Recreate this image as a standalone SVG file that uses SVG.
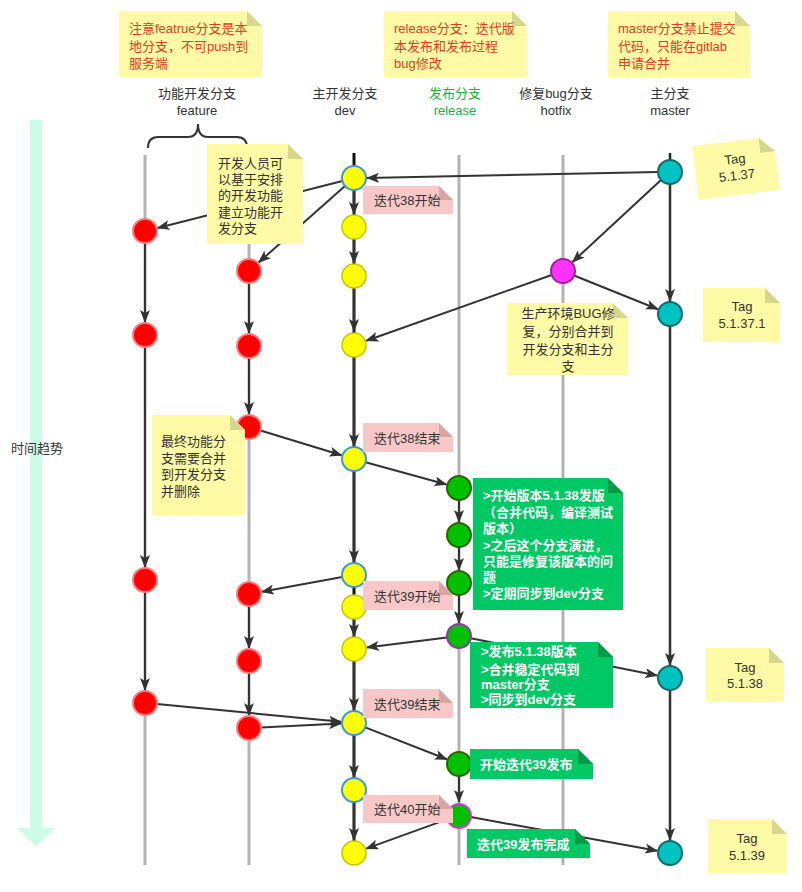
<svg xmlns="http://www.w3.org/2000/svg" width="802" height="892" viewBox="0 0 802 892">
<style>
text{font-family:"Liberation Sans","Noto Sans CJK SC",sans-serif;font-size:13px;fill:#333;dominant-baseline:central}
tspan{dominant-baseline:central}
.red{fill:#e03c1e}
.wt{fill:#fff;font-weight:bold}
.mid{text-anchor:middle}
.lane{stroke:#b3b3b3;stroke-width:3}
.e{stroke:#333;stroke-width:2;fill:none;marker-end:url(#arr)}
.nr{fill:#ff0000;stroke:#ff7a7a;stroke-width:2}
.ny{fill:#ffff00;stroke:#c4c400;stroke-width:1.5}
.nb{fill:#ffff00;stroke:#3a96e6;stroke-width:2}
.ng{fill:#00c000;stroke:#2a6600;stroke-width:2}
.nm{fill:#00c2c2;stroke:#0f6a6a;stroke-width:2}
.yel{fill:#fffaa5}
.yf{fill:#d6d68c}
.pk{fill:#f8c8c8}
.pf{fill:#d9a4a4}
.gn{fill:#00c864}
.gf{fill:#009a48}
</style>
<defs>
<marker id="arr" markerUnits="userSpaceOnUse" markerWidth="13" markerHeight="10" refX="12" refY="5" orient="auto">
<path d="M0,0 L13,5 L0,10 L3,5 Z" fill="#333"/>
</marker>
</defs>
<rect width="802" height="892" fill="#fff"/>

<g id="time-axis">
<rect x="30" y="120" width="12" height="708" fill="#ccfbe6"/>
<path d="M17,828 L55,828 L36,846 Z" fill="#ccfbe6"/>
<text x="11" y="448">时间趋势</text>
</g>

<g id="headers">
<text class="mid" x="197" y="93.5">功能开发分支<tspan x="197" dy="16">feature</tspan></text>
<text class="mid" x="345" y="93.5">主开发分支<tspan x="345" dy="16">dev</tspan></text>
<text class="mid" x="455" y="93.5" style="fill:#22b33a">发布分支<tspan x="455" dy="16">release</tspan></text>
<text class="mid" x="556" y="93.5">修复bug分支<tspan x="556" dy="16">hotfix</tspan></text>
<text class="mid" x="670" y="93.5">主分支<tspan x="670" dy="16">master</tspan></text>
<path d="M148,148 Q148,137 158,137 L188,137 Q198,137 198,124 Q198,137 208,137 L237,137 Q247,137 247,148" stroke="#333" stroke-width="2" fill="none"/>
</g>

<g id="lanes">
<line class="lane" x1="145" y1="155" x2="145" y2="865"/>
<line class="lane" x1="249" y1="155" x2="249" y2="865"/>
<line class="lane" x1="459" y1="155" x2="459" y2="865"/>
<line class="lane" x1="563" y1="155" x2="563" y2="865"/>
<line x1="354" y1="153" x2="354" y2="865" stroke="#111" stroke-width="3"/>
<line x1="670" y1="153" x2="670" y2="850" stroke="#222" stroke-width="2.5"/>
</g>

<g id="connectors">
<line class="e" x1="658" y1="172" x2="367" y2="178"/>
<line class="e" x1="661" y1="180" x2="572.5" y2="262"/>
<line class="e" x1="342.4" y1="181" x2="157.6" y2="228"/>
<line class="e" x1="345" y1="186" x2="258.7" y2="262.4"/>
<line class="e" x1="354" y1="190" x2="354" y2="214"/>
<line class="e" x1="354" y1="239" x2="354" y2="263"/>
<line class="e" x1="354" y1="288" x2="354" y2="331"/>
<line class="e" x1="574" y1="275.5" x2="657.9" y2="309.2"/>
<line class="e" x1="551.7" y1="275" x2="366.3" y2="340.7"/>
<line class="e" x1="670" y1="184" x2="670" y2="301"/>
<line class="e" x1="145" y1="243" x2="145" y2="322"/>
<line class="e" x1="145" y1="347" x2="145" y2="567"/>
<line class="e" x1="145" y1="592" x2="145" y2="690"/>
<line class="e" x1="249" y1="283" x2="249" y2="333"/>
<line class="e" x1="249" y1="358" x2="249" y2="414"/>
<line class="e" x1="260.5" y1="430.5" x2="341.6" y2="455.2"/>
<line class="e" x1="354" y1="357" x2="354" y2="446"/>
<line class="e" x1="365.6" y1="462.2" x2="446.5" y2="484.5"/>
<line class="e" x1="459" y1="500" x2="459" y2="522"/>
<line class="e" x1="459" y1="547" x2="459" y2="570"/>
<line class="e" x1="459" y1="595" x2="459" y2="623"/>
<line class="e" x1="354" y1="471" x2="354" y2="562"/>
<line class="e" x1="342.2" y1="577.1" x2="261.8" y2="591.7"/>
<line class="e" x1="354" y1="620" x2="354" y2="636"/>
<line class="e" x1="447.1" y1="637.5" x2="366.9" y2="647.4"/>
<line class="e" x1="470.8" y1="638.3" x2="657.2" y2="675.5"/>
<line class="e" x1="670" y1="326" x2="670" y2="665"/>
<line class="e" x1="249" y1="606" x2="249" y2="648"/>
<line class="e" x1="249" y1="673" x2="249" y2="715"/>
<line class="e" x1="157" y1="704" x2="341" y2="721.8"/>
<line class="e" x1="261" y1="727.4" x2="341" y2="723.6"/>
<line class="e" x1="354" y1="661" x2="354" y2="710"/>
<line class="e" x1="365.2" y1="727.4" x2="446.9" y2="759.3"/>
<line class="e" x1="354" y1="735" x2="354" y2="777"/>
<line class="e" x1="354" y1="802" x2="354" y2="840"/>
<line class="e" x1="459" y1="776" x2="459" y2="802"/>
<line class="e" x1="447.7" y1="819.1" x2="366.2" y2="848.6"/>
<line class="e" x1="470.8" y1="817.1" x2="657.2" y2="850.7"/>
<line class="e" x1="670" y1="690" x2="670" y2="840"/>
</g>

<g id="node-f1a"><circle class="nr" cx="145" cy="231" r="12"/></g>
<g id="node-f1b"><circle class="nr" cx="145" cy="335" r="12"/></g>
<g id="node-f1c"><circle class="nr" cx="145" cy="580" r="12"/></g>
<g id="node-f1d"><circle class="nr" cx="145" cy="703" r="12"/></g>
<g id="node-f2a"><circle class="nr" cx="249" cy="271" r="12"/></g>
<g id="node-f2b"><circle class="nr" cx="249" cy="346" r="12"/></g>
<g id="node-f2c"><circle class="nr" cx="249" cy="427" r="12"/></g>
<g id="node-f2d"><circle class="nr" cx="249" cy="594" r="12"/></g>
<g id="node-f2e"><circle class="nr" cx="249" cy="661" r="12"/></g>
<g id="node-f2f"><circle class="nr" cx="249" cy="728" r="12"/></g>

<g id="node-d1"><circle class="nb" cx="354" cy="178" r="12"/></g>
<g id="node-d2"><circle class="ny" cx="354" cy="227" r="12"/></g>
<g id="node-d3"><circle class="ny" cx="354" cy="276" r="12"/></g>
<g id="node-d4"><circle class="ny" cx="354" cy="345" r="12"/></g>
<g id="node-d5"><circle class="nb" cx="354" cy="459" r="12"/></g>
<g id="node-d6"><circle class="nb" cx="354" cy="575" r="12"/></g>
<g id="node-d7"><circle class="ny" cx="354" cy="607" r="12"/></g>
<g id="node-d8"><circle class="ny" cx="354" cy="649" r="12"/></g>
<g id="node-d9"><circle class="nb" cx="354" cy="723" r="12"/></g>
<g id="node-d10"><circle class="nb" cx="354" cy="790" r="12"/></g>
<g id="node-d11"><circle class="ny" cx="354" cy="853" r="12"/></g>

<g id="node-r1"><circle class="ng" cx="459" cy="488" r="12"/></g>
<g id="node-r2"><circle class="ng" cx="459" cy="535" r="12"/></g>
<g id="node-r3"><circle class="ng" cx="459" cy="583" r="12"/></g>
<g id="node-r4"><circle class="ng" cx="459" cy="636" r="12" style="stroke:#9933aa"/></g>
<g id="node-r5"><circle class="ng" cx="459" cy="764" r="12"/></g>
<g id="node-r6"><circle class="ng" cx="459" cy="816" r="12" style="stroke:#dd33dd"/></g>

<g id="node-h1"><circle cx="563" cy="271" r="12" fill="#ff33ff" stroke="#a020a0" stroke-width="2"/></g>

<g id="node-m1"><circle class="nm" cx="670" cy="172" r="12"/></g>
<g id="node-m2"><circle class="nm" cx="670" cy="314" r="12"/></g>
<g id="node-m3"><circle class="nm" cx="670" cy="678" r="12"/></g>
<g id="node-m4"><circle class="nm" cx="670" cy="853" r="12"/></g>

<g id="note-feature">
<path class="yel" d="M119,11 H247 L262,26 V77 H119 Z"/>
<path class="yf" d="M247,11 V26 H262 Z"/>
<text class="red" x="129" y="28.5">注意featrue分支是本<tspan x="129" dy="17">地分支，不可push到</tspan><tspan x="129" dy="17">服务端</tspan></text>
</g>
<g id="note-release">
<path class="yel" d="M384,11 H512 L527,26 V77 H384 Z"/>
<path class="yf" d="M512,11 V26 H527 Z"/>
<text class="red" x="394" y="28.5">release分支：迭代版<tspan x="394" dy="17">本发布和发布过程</tspan><tspan x="394" dy="17">bug修改</tspan></text>
</g>
<g id="note-master">
<path class="yel" d="M608,11 H735 L750,26 V77 H608 Z"/>
<path class="yf" d="M735,11 V26 H750 Z"/>
<text class="red" x="618" y="28.5">master分支禁止提交<tspan x="618" dy="17">代码，只能在gitlab</tspan><tspan x="618" dy="17">申请合并</tspan></text>
</g>

<g id="note-dev-create">
<path class="yel" d="M207,144 H288 L303,159 V244 H207 Z"/>
<path class="yf" d="M288,144 V159 H303 Z"/>
<text x="218" y="163">开发人员可<tspan x="218" dy="16">以基于安排</tspan><tspan x="218" dy="16">的开发功能</tspan><tspan x="218" dy="16.5">建立功能开</tspan><tspan x="218" dy="16.5">发分支</tspan></text>
</g>

<g id="note-hotfix">
<path class="yel" d="M507,303 H613 L628,318 V375 H507 Z"/>
<path class="yf" d="M613,303 V318 H628 Z"/>
<text class="mid" x="568" y="313">生产环境BUG修<tspan x="568" dy="18">复，分别合并到</tspan><tspan x="568" dy="18">开发分支和主分</tspan><tspan x="568" dy="17">支</tspan></text>
</g>

<g id="note-merge">
<path class="yel" d="M152,415 H230 L245,430 V515 H152 Z"/>
<path class="yf" d="M230,415 V430 H245 Z"/>
<text x="161" y="441">最终功能分<tspan x="161" dy="16.5">支需要合并</tspan><tspan x="161" dy="16.5">到开发分支</tspan><tspan x="161" dy="16.5">并删除</tspan></text>
</g>

<g id="tag-5137" transform="translate(736,168) rotate(-7)">
<path class="yel" d="M-41,-27 H26 L41,-12 V27 H-41 Z"/>
<path class="yf" d="M26,-27 V-12 H41 Z"/>
<text class="mid" x="0" y="-9">Tag<tspan x="0" dy="16">5.1.37</tspan></text>
</g>
<g id="tag-51371">
<path class="yel" d="M703,288 H765 L780,303 V342 H703 Z"/>
<path class="yf" d="M765,288 V303 H780 Z"/>
<text class="mid" x="742" y="306">Tag<tspan x="742" dy="17">5.1.37.1</tspan></text>
</g>
<g id="tag-5138">
<path class="yel" d="M706,648 H769 L784,663 V702 H706 Z"/>
<path class="yf" d="M769,648 V663 H784 Z"/>
<text class="mid" x="745" y="667">Tag<tspan x="745" dy="16">5.1.38</tspan></text>
</g>
<g id="tag-5139">
<path class="yel" d="M708,819 H772 L787,834 V873 H708 Z"/>
<path class="yf" d="M772,819 V834 H787 Z"/>
<text class="mid" x="747" y="838">Tag<tspan x="747" dy="17">5.1.39</tspan></text>
</g>

<g id="label-it38s">
<path class="pk" d="M363,186 H439 L453,200 V214 H363 Z"/>
<path class="pf" d="M439,186 V200 H453 Z"/>
<text x="374" y="200">迭代38开始</text>
</g>
<g id="label-it38e">
<path class="pk" d="M363,423 H439 L453,437 V452 H363 Z"/>
<path class="pf" d="M439,423 V437 H453 Z"/>
<text x="374" y="438">迭代38结束</text>
</g>
<g id="label-it39s">
<path class="pk" d="M363,581 H439 L453,595 V610 H363 Z"/>
<path class="pf" d="M439,581 V595 H453 Z"/>
<text x="374" y="596">迭代39开始</text>
</g>
<g id="label-it39e">
<path class="pk" d="M363,689 H439 L453,703 V718 H363 Z"/>
<path class="pf" d="M439,689 V703 H453 Z"/>
<text x="374" y="704">迭代39结束</text>
</g>
<g id="label-it40s">
<path class="pk" d="M363,795 H439 L453,809 V823 H363 Z"/>
<path class="pf" d="M439,795 V809 H453 Z"/>
<text x="374" y="809">迭代40开始</text>
</g>

<g id="note-release-start">
<path class="gn" d="M473,478 H608 L623,493 V610 H473 Z"/>
<path class="gf" d="M608,478 V493 H623 Z"/>
<text class="wt" x="483" y="495">&gt;开始版本5.1.38发版<tspan x="483" dy="17">（合并代码，编译测试</tspan><tspan x="483" dy="16">版本）</tspan><tspan x="483" dy="17">&gt;之后这个分支演进，</tspan><tspan x="483" dy="16">只能是修复该版本的问</tspan><tspan x="483" dy="16">题</tspan><tspan x="483" dy="16">&gt;定期同步到dev分支</tspan></text>
</g>
<g id="note-release-done">
<path class="gn" d="M470,642 H598 L613,657 V708 H470 Z"/>
<path class="gf" d="M598,642 V657 H613 Z"/>
<text class="wt" x="481" y="651">&gt;发布5.1.38版本<tspan x="481" dy="18">&gt;合并稳定代码到</tspan><tspan x="481" dy="15">master分支</tspan><tspan x="481" dy="15">&gt;同步到dev分支</tspan></text>
</g>
<g id="note-it39-start">
<path class="gn" d="M470,749 H578 L593,764 V779 H470 Z"/>
<path class="gf" d="M578,749 V764 H593 Z"/>
<text class="wt" x="480" y="764">开始迭代39发布</text>
</g>
<g id="note-it39-done">
<path class="gn" d="M467,829 H575 L590,844 V858 H467 Z"/>
<path class="gf" d="M575,829 V844 H590 Z"/>
<text class="wt" x="477" y="844">迭代39发布完成</text>
</g>
</svg>
